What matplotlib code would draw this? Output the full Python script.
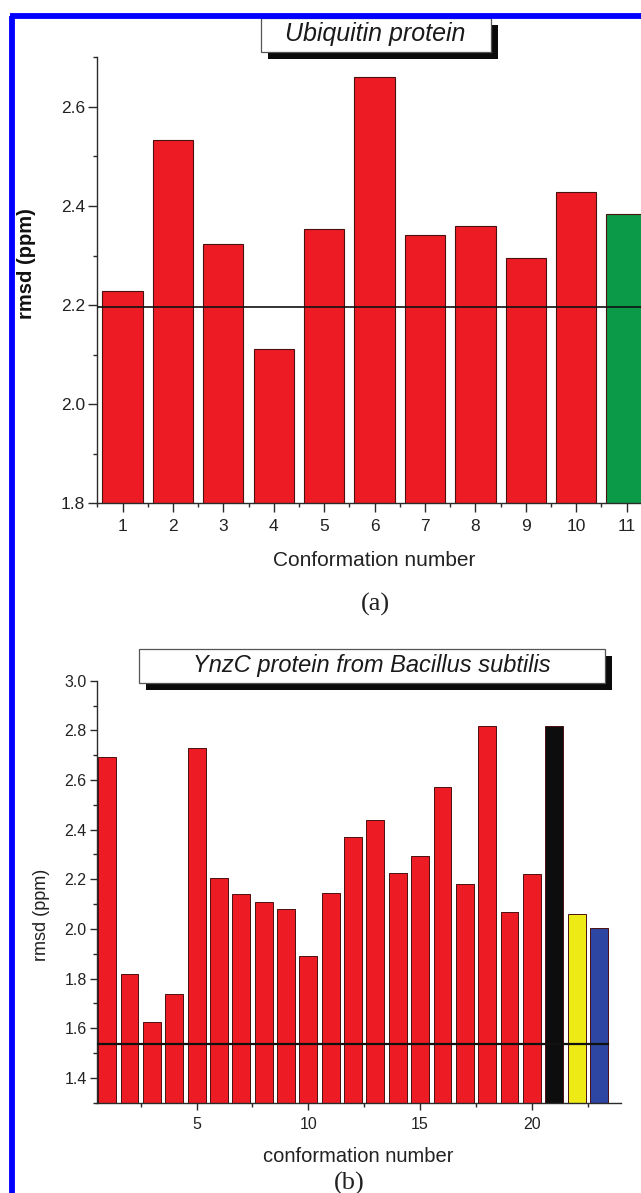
import matplotlib
matplotlib.use("Agg")
import matplotlib.pyplot as plt
from matplotlib.patches import Rectangle
from matplotlib.lines import Line2D
from matplotlib.ticker import MultipleLocator

# ---------------- data ----------------
top_conf = [1, 2, 3, 4, 5, 6, 7, 8, 9, 10, 11]
top_rmsd = [2.229, 2.534, 2.323, 2.112, 2.354, 2.661, 2.342, 2.360, 2.296, 2.429, 2.384]
top_colors = ["#ED1C24"] * 10 + ["#0B9A48"]
top_ref = 2.197
top_title = "Ubiquitin protein"

bot_conf = list(range(1, 24))
bot_rmsd = [2.693, 1.818, 1.626, 1.738, 2.728, 2.206, 2.141, 2.110, 2.081, 1.889,
            2.145, 2.369, 2.439, 2.225, 2.294, 2.573, 2.180, 2.817, 2.069, 2.221,
            2.817, 2.060, 2.005]
bot_colors = ["#ED1C24"] * 20 + ["#0D0D0D", "#EDEA16", "#2D46A2"]
bot_ref = 1.536
bot_title = "YnzC protein from Bacillus subtilis"

W, H = 641, 1193
fig = plt.figure(figsize=(W / 100, H / 100), dpi=100)
fig.patch.set_facecolor("white")

def fx(px):
    return px / W

def fy(py):
    return 1 - py / H

SANS = ["Liberation Sans", "DejaVu Sans"]
SERIF = ["Liberation Serif", "DejaVu Serif"]
AXC = "#2a2a2a"

def style_axes(ax, lsize):
    for s in ["top", "right"]:
        ax.spines[s].set_visible(False)
    for s in ["left", "bottom"]:
        ax.spines[s].set_color(AXC)
        ax.spines[s].set_linewidth(1.0)
    ax.tick_params(which="both", direction="out", color=AXC, width=1.0)
    for lab in ax.get_xticklabels() + ax.get_yticklabels():
        lab.set_fontfamily(SANS)
        lab.set_fontsize(lsize)
        lab.set_color("#222222")

# ---------------- top panel ----------------
ax1 = fig.add_axes([fx(97.3), fy(503.3), fx(651.8) - fx(97.3), fy(57.3) - fy(503.3)])
ax1.bar(top_conf, top_rmsd, width=0.8, bottom=0, color=top_colors,
        edgecolor="#4a1010", linewidth=0.8, zorder=2)
ax1.axhline(top_ref, color="#111111", linewidth=1.2, zorder=3)
ax1.set_xlim(0.5, 11.5)
ax1.set_ylim(1.8, 2.7)
ax1.xaxis.set_major_locator(MultipleLocator(1))
ax1.xaxis.set_minor_locator(MultipleLocator(0.5))
ax1.yaxis.set_major_locator(MultipleLocator(0.2))
ax1.yaxis.set_minor_locator(MultipleLocator(0.1))
ax1.set_xticks(top_conf)
ax1.set_xticklabels([str(c) for c in top_conf])
ax1.set_yticks([1.8, 2.0, 2.2, 2.4, 2.6])
ax1.set_yticklabels(["1.8", "2.0", "2.2", "2.4", "2.6"])
ax1.tick_params(axis="both", which="major", length=6.5, pad=2.5)
ax1.tick_params(axis="x", which="major", pad=4.5)
ax1.tick_params(axis="both", which="minor", length=3)
style_axes(ax1, 12.5)

# ---------------- bottom panel ----------------
ax2 = fig.add_axes([fx(97.1), fy(1102.7), fx(621.3) - fx(97.1), fy(680.7) - fy(1102.7)])
ax2.bar(bot_conf, bot_rmsd, width=0.8, bottom=0, color=bot_colors,
        edgecolor="#4a1010", linewidth=0.7, zorder=2)
ax2.plot([0.55, 23.42], [bot_ref, bot_ref], color="#111111", linewidth=1.6, zorder=3)
ax2.set_xlim(0.55, 24.0)
ax2.set_ylim(1.3, 3.0)
ax2.xaxis.set_major_locator(MultipleLocator(5))
ax2.xaxis.set_minor_locator(MultipleLocator(2.5))
ax2.yaxis.set_major_locator(MultipleLocator(0.2))
ax2.yaxis.set_minor_locator(MultipleLocator(0.1))
ax2.set_xticks([5, 10, 15, 20])
ax2.set_xticklabels(["5", "10", "15", "20"])
ax2.set_yticks([1.4, 1.6, 1.8, 2.0, 2.2, 2.4, 2.6, 2.8, 3.0])
ax2.set_yticklabels(["1.4", "1.6", "1.8", "2.0", "2.2", "2.4", "2.6", "2.8", "3.0"])
ax2.tick_params(axis="both", which="major", length=5, pad=2.5)
ax2.tick_params(axis="x", which="major", pad=5)
ax2.tick_params(axis="both", which="minor", length=3)
style_axes(ax2, 11.5)

# ---------------- labels ----------------
fig.text(fx(27), fy(264), "rmsd (ppm)", rotation=90, ha="center", va="center",
         fontsize=14.5, fontweight="bold", family=SANS, color="#111111")
fig.text(fx(374.5), fy(560), "Conformation number", ha="center", va="center",
         fontsize=15, family=SANS, color="#222222")
fig.text(fx(375), fy(604), "(a)", ha="center", va="center",
         fontsize=19, family=SERIF, color="#222222")

fig.text(fx(41), fy(915), "rmsd (ppm)", rotation=90, ha="center", va="center",
         fontsize=13, family=SANS, color="#222222")
fig.text(fx(358), fy(1157), "conformation number", ha="center", va="center",
         fontsize=14.5, family=SANS, color="#222222")
fig.text(fx(349), fy(1172), "(b)", ha="center", va="top",
         fontsize=19, family=SERIF, color="#222222")

# ---------------- title boxes ----------------
def title_box(x0, y0, x1, y1, text, size):
    sh = 7
    fig.patches.append(Rectangle((fx(x0 + sh), fy(y1 + sh)), fx(x1 - x0), fy(y0) - fy(y1),
                                 transform=fig.transFigure, facecolor="#0a0a0a",
                                 edgecolor="none", zorder=5))
    fig.patches.append(Rectangle((fx(x0), fy(y1)), fx(x1 - x0), fy(y0) - fy(y1),
                                 transform=fig.transFigure, facecolor="white",
                                 edgecolor="#555555", linewidth=0.9, zorder=6))
    fig.text(fx((x0 + x1) / 2), fy((y0 + y1) / 2), text, ha="center", va="center",
             fontsize=size, style="italic", family=SANS, color="#1a1a1a", zorder=7)

title_box(260.5, 17.5, 490.5, 51.5, top_title, 18)
title_box(139, 648.5, 605, 682.5, bot_title, 17)

# ---------------- blue frame ----------------
fig.lines.append(Line2D([fx(12), fx(12)], [fy(15.5), fy(H + 10)], transform=fig.transFigure,
                        color="#0000FF", linewidth=4.2, solid_capstyle="butt", zorder=10))
fig.lines.append(Line2D([fx(9.5), fx(W + 10)], [fy(15.5), fy(15.5)], transform=fig.transFigure,
                        color="#0000FF", linewidth=4.2, solid_capstyle="butt", zorder=10))

fig.savefig("out.png", dpi=100, facecolor="white")
